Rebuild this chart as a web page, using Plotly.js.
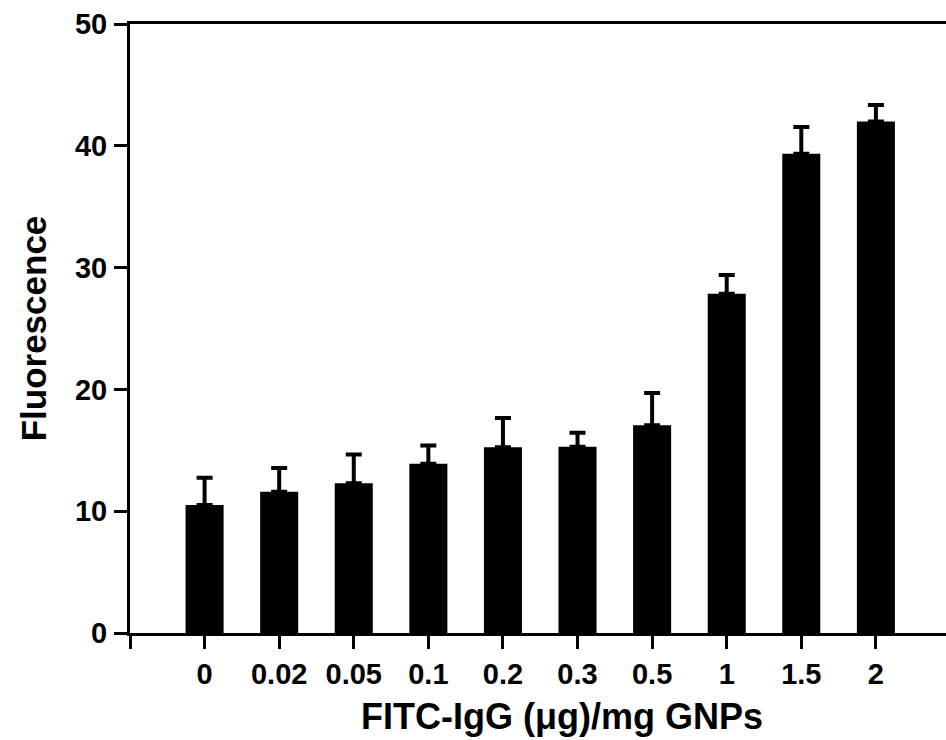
<!DOCTYPE html>
<html>
<head>
<meta charset="utf-8">
<script src="https://cdn.plot.ly/plotly-3.0.1.min.js"></script>
<style>html,body{margin:0;padding:0;background:#fff;}#chart{width:946px;height:740px;}</style>
</head>
<body>
<div id="chart"></div>
<script>
const categories = ["0", "0.02", "0.05", "0.1", "0.2", "0.3", "0.5", "1", "1.5", "2"];
const fluorescence = [10.5, 11.6, 12.3, 13.9, 15.25, 15.3, 17.05, 27.85, 39.35, 42.0];
const errorUp = [2.25, 1.95, 2.35, 1.5, 2.4, 1.15, 2.65, 1.55, 2.2, 1.35];
const yTicks = [0, 10, 20, 30, 40, 50];
const xTitle = "FITC-IgG (\u03bcg)/mg GNPs";
const yTitle = "Fluorescence";

const positions = categories.map((c, i) => i);
const fam = "Liberation Sans, Arial, sans-serif";
const font = {family: fam, color: "#000", weight: 700};

const trace = {
  type: "bar",
  x: positions,
  y: fluorescence,
  width: 0.51,
  marker: {color: "#000", line: {color: "#000", width: 0}},
  error_y: {
    type: "data", symmetric: false, array: errorUp,
    arrayminus: errorUp.map(() => 0),
    color: "#000", thickness: 4, width: 8
  },
  hoverinfo: "skip"
};

const layout = {
  width: 946, height: 740,
  margin: {l: 130, r: 0, t: 24, b: 107},
  paper_bgcolor: "#fff", plot_bgcolor: "#fff",
  showlegend: false,
  font: font,
  xaxis: {
    range: [-1, 9.94],
    tickvals: [-1].concat(positions),
    ticktext: [""].concat(categories),
    showline: true, linecolor: "#000", linewidth: 3, mirror: true,
    ticks: "outside", ticklen: 13, tickwidth: 3, tickcolor: "#000",
    showgrid: false, zeroline: false,
    tickfont: {family: fam, size: 29, color: "#000", weight: 700},
    ticklabelstandoff: 0
  },
  yaxis: {
    range: [0, 50],
    tickvals: yTicks,
    ticktext: yTicks.map(String),
    showline: true, linecolor: "#000", linewidth: 3,
    ticks: "outside", ticklen: 13, tickwidth: 3, tickcolor: "#000",
    showgrid: false, zeroline: false,
    tickfont: {family: fam, size: 29, color: "#000", weight: 700},
    ticklabelstandoff: 1,
    title: {text: yTitle, font: {family: fam, size: 35, color: "#000", weight: 700}, standoff: 18}
  },
  annotations: [{
    text: xTitle, showarrow: false,
    xref: "paper", yref: "paper", x: 0.529, y: -0.137,
    xanchor: "center", yanchor: "middle",
    font: {family: fam, size: 36, color: "#000", weight: 700}
  }]
};

Plotly.newPlot("chart", [trace], layout, {displayModeBar: false, staticPlot: true});
</script>
</body>
</html>
